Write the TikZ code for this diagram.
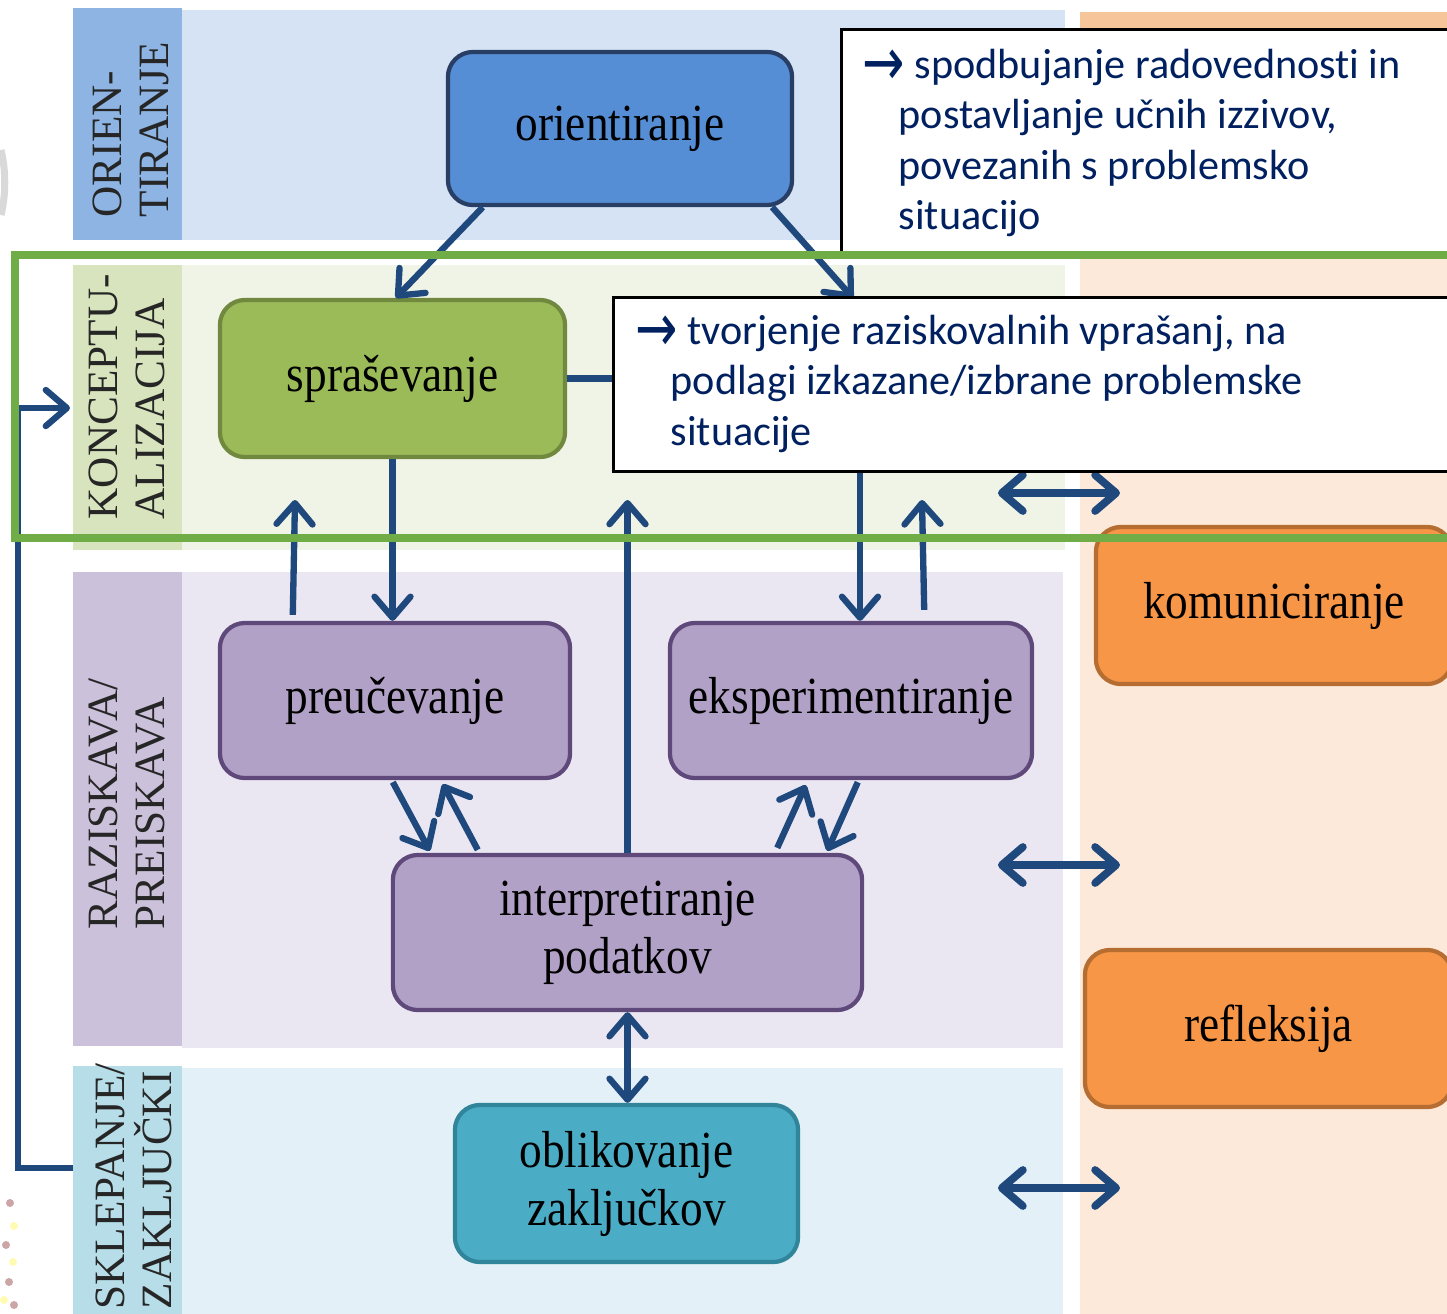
\documentclass[tikz,border=0pt]{standalone}
\usepackage{fontspec}
\usepackage{graphicx}
\setmainfont{Liberation Serif}
\newfontfamily\boxfont[FakeStretch=0.87]{Liberation Serif}
\newfontfamily\calfont[RawFeature={-liga}]{Carlito}
\newfontfamily\arrowfont{DejaVu Sans}
\usetikzlibrary{arrows.meta,calc}
\definecolor{arrC}{RGB}{31,73,125}
\definecolor{oriL}{RGB}{141,180,226}
\definecolor{oriB}{RGB}{214,227,244}
\definecolor{konL}{RGB}{215,228,189}
\definecolor{konB}{RGB}{240,244,231}
\definecolor{razL}{RGB}{204,193,218}
\definecolor{razB}{RGB}{235,231,242}
\definecolor{sklL}{RGB}{183,221,232}
\definecolor{sklB}{RGB}{227,240,247}
\definecolor{orT}{RGB}{247,197,154}
\definecolor{orB}{RGB}{253,233,217}
\definecolor{oriF}{RGB}{85,142,213}
\definecolor{oriD}{RGB}{40,62,100}
\definecolor{sprF}{RGB}{155,187,89}
\definecolor{sprD}{RGB}{113,137,63}
\definecolor{purF}{RGB}{178,161,199}
\definecolor{purD}{RGB}{95,73,122}
\definecolor{tealF}{RGB}{75,172,198}
\definecolor{tealD}{RGB}{49,133,155}
\definecolor{orgF}{RGB}{247,150,70}
\definecolor{orgD}{RGB}{182,109,49}
\definecolor{frameG}{RGB}{112,173,71}
\definecolor{navyT}{RGB}{0,32,96}
\newcommand{\calarrow}{\smash{\raisebox{-0.07cm}{\scalebox{1.2}[1.6]{\arrowfont →}}}}
\begin{document}
\begin{tikzpicture}[x=0.01cm,y=-0.01cm,
  box/.style={rounded corners=0.25cm, line width=1.2pt, font=\boxfont\fontsize{14.8}{16.5}\selectfont, align=center, inner sep=0pt, text=black},
  bluebox/.style={box, fill=oriF, draw=oriD},
  greenbox/.style={box, fill=sprF, draw=sprD},
  purbox/.style={box, fill=purF, draw=purD},
  tealbox/.style={box, fill=tealF, draw=tealD},
  orgbox/.style={box, fill=orgF, draw=orgD},
  callbox/.style={draw=black, line width=0.8pt, fill=white, inner sep=0pt, anchor=north west},
  calltext/.style={font=\calfont\fontsize{12}{14.4}\selectfont, text=navyT, align=left, inner sep=0pt, anchor=north west},
  vlabel/.style={font=\fontsize{12.3}{13.4}\selectfont, text=black!85, align=left, inner sep=0pt, rotate=90, anchor=north west},
  arr/.style={draw=arrC, line width=1.8pt, -{Straight Barb[length=2.1mm,width=3.6mm,round]}},
  darr/.style={draw=arrC, line width=1.8pt, {Straight Barb[length=2.1mm,width=3.6mm,round]}-{Straight Barb[length=2.1mm,width=3.6mm,round]}},
  hdarr/.style={darr, line width=2.2pt}
]
\useasboundingbox (0,0) rectangle (1447,1314);
\clip (0,0) rectangle (1447,1314);

% background bands
\fill[oriL] (73,8) rectangle (182,240);
\fill[oriB] (182,10) rectangle (1065,240);
\fill[konL] (73,265) rectangle (182,550);
\fill[konB] (182,265) rectangle (1065,550);
\fill[razL] (73,572) rectangle (182,1046);
\fill[razB] (182,572) rectangle (1063,1048);
\fill[sklL] (73,1066) rectangle (182,1314);
\fill[sklB] (182,1068) rectangle (1063,1314);
\fill[orT] (1080,12) rectangle (1447,245);
\fill[orB] (1080,245) rectangle (1447,1314);

% left edge remnants
\draw[gray!30, line width=2pt] (1,150) .. controls (6,170) and (6,195) .. (1,215);
\foreach \px/\py/\c in {10/1203/pink!60!gray, 14/1226/yellow!30, 6/1245/pink!60!gray, 13/1262/yellow!30, 9/1282/pink!60!gray, 4/1300/yellow!30, 14/1305/pink!60!gray}
  \fill[\c] (\px,\py) circle (0.04cm);

% vertical labels
\node[vlabel] (lbOri) at (92,218) {ORIEN-\\TIRANJE};
\node[vlabel] (lbKon) at (88,520) {KONCEPTU-\\ALIZACIJA};
\node[vlabel] (lbRaz) at (88,930) {RAZISKAVA/\\PREISKAVA};
\node[vlabel] (lbSkl) at (95,1310) {SKLEPANJE/\\ZAKLJUČKI};

% boxes
\node[bluebox, minimum width=3.44cm, minimum height=1.53cm] (ori) at (620,128.5) {orientiranje};
\node[greenbox, minimum width=3.45cm, minimum height=1.57cm] (spr) at (392.5,378.5) {spraševanje};
\node[purbox, minimum width=3.5cm, minimum height=1.55cm] (pre) at (395,700.5) {\raisebox{0.08cm}{preučevanje}};
\node[purbox, minimum width=3.62cm, minimum height=1.55cm] (eks) at (851,700.5) {eksperimentiranje};
\node[purbox, minimum width=4.69cm, minimum height=1.55cm] (int) at (627.5,932.5) {interpretiranje\\podatkov};
\node[tealbox, minimum width=3.43cm, minimum height=1.57cm] (obl) at (626.5,1183.5) {oblikovanje\\zaključkov};
\node[orgbox, minimum width=3.56cm, minimum height=1.57cm] (kom) at (1274,605.5) {komuniciranje};
\node[orgbox, minimum width=3.67cm, minimum height=1.57cm] (ref) at (1268.5,1028.5) {refleksija};

% free ends
\coordinate (upA) at (295,500);
\coordinate (upC) at (922,500);
\coordinate (oriR) at (853,298);
\coordinate (fbS) at (73,1168);
\coordinate (fbE) at (70,408);
\coordinate (h1a) at (998,493); \coordinate (h1b) at (1120,493);
\coordinate (h2a) at (998,865); \coordinate (h2b) at (1120,865);
\coordinate (h3a) at (998,1188); \coordinate (h3b) at (1120,1188);

% connectors
\draw[arr] ($(ori.south west)+(37,0)$) -- ($(spr.north west)+(178,0)$);
\draw[arr] ($(ori.south east)+(-22,0)$) -- (oriR);
\draw[arr] (spr.south) -- (spr.south |- pre.north);
\draw[arr] ($(pre.north west)+(75,-6)$) -- (upA);
\draw[arr] (int.north) -- (int.north |- upA);
\draw[arr] (spr.east) -| ($(eks.north)+(9,0)$);
\draw[arr] ($(eks.north east)+(-110,-11)$) -- (upC);
\draw[arr] ($(pre.south west)+(175,2)$) -- ($(int.north west)+(39,-2)$);
\draw[arr] ($(int.north west)+(87,-3)$) -- ($(pre.south west)+(225,4)$);
\draw[arr] ($(int.north east)+(-87,-5)$) -- ($(eks.south west)+(138,5)$);
\draw[arr] ($(eks.south west)+(190,2)$) -- ($(int.north east)+(-37,-2)$);
\draw[darr] (int.south) -- (int.south |- obl.north);
\draw[arr] (fbS) -- ++(-55,0) |- (fbE);
\draw[hdarr] (h1a) -- (h1b);
\draw[hdarr] (h2a) -- (h2b);
\draw[hdarr] (h3a) -- (h3b);

% callouts
\node[callbox, minimum width=6.2cm, minimum height=2.24cm] (co1) at (840,28) {};
\node[calltext] (co1t) at (862,48) {\calarrow\ spodbujanje radovednosti in\\\hspace*{0.36cm}postavljanje učnih izzivov,\\\hspace*{0.36cm}povezanih s problemsko\\\hspace*{0.36cm}situacijo};
\node[callbox, minimum width=8.5cm, minimum height=1.74cm] (co2) at (612,296) {};
\node[calltext] (co2t) at (635,314) {\calarrow\ tvorjenje raziskovalnih vprašanj, na\\\hspace*{0.35cm}podlagi izkazane/izbrane problemske\\\hspace*{0.35cm}situacije};

% green frame
\draw[frameG, line width=2pt] (15,255) rectangle (1460,538);
\end{tikzpicture}
\end{document}
